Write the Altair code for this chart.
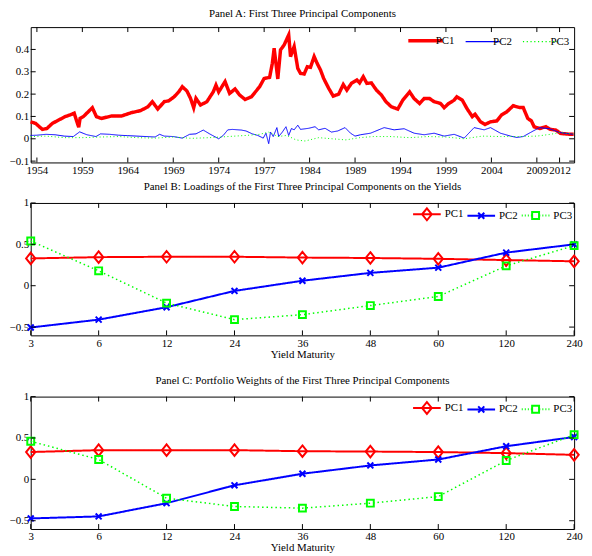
import altair as alt
import pandas as pd

FONT = "Liberation Serif"
series_names = ["PC1", "PC2", "PC3"]
series_colors = ["#ff0000", "#0000ff", "#00ff00"]
# style categories (line dash / marker) for each series
series_dash = ["solid", "solid", "dotted"]
series_marker = ["diamond", "x-mark", "square"]

# ---------------- Panel A: time series of the first three PCs ----------------
pc1_years = [1953.3, 1953.85, 1954.6, 1955.1, 1955.7, 1956.4, 1957.1, 1957.8, 1958.1, 1958.4,
             1958.6, 1958.75, 1959.1, 1959.65, 1960.1, 1960.55, 1961.1, 1962.2, 1963.3, 1964.4,
             1965.4, 1966.2, 1966.7, 1967.3, 1968.0, 1968.5, 1969.1, 1969.6, 1970.0, 1970.5,
             1970.9, 1971.25, 1971.5, 1972.0, 1972.7, 1973.4, 1973.7, 1974.0, 1974.7, 1975.2,
             1975.8, 1976.3, 1976.9, 1977.6, 1978.5, 1979.0, 1979.6, 1979.9, 1980.1, 1980.5,
             1980.8, 1981.2, 1981.7, 1981.9, 1982.3, 1982.7, 1983.0, 1983.4, 1983.75, 1984.1,
             1984.5, 1984.8, 1985.2, 1985.55, 1986.1, 1986.6, 1987.2, 1987.7, 1988.1, 1988.6,
             1989.2, 1989.5, 1989.9, 1990.3, 1990.8, 1991.35, 1991.9, 1992.4, 1993.0, 1993.7,
             1994.25, 1995.0, 1995.5, 1996.1, 1996.6, 1997.2, 1997.7, 1998.4, 1998.8, 1999.3,
             1999.9, 2000.2, 2000.8, 2001.3, 2001.9, 2002.2, 2002.8, 2003.3, 2003.9, 2004.6,
             2005.1, 2005.7, 2006.4, 2007.1, 2007.5, 2008.0, 2008.4, 2008.7, 2009.3, 2010.0,
             2010.5, 2011.1, 2011.6, 2012.7, 2013.05]
pc1_vals = [0.076, 0.069, 0.042, 0.046, 0.069, 0.084, 0.099, 0.109, 0.115, 0.076,
            0.052, 0.091, 0.099, 0.121, 0.139, 0.099, 0.091, 0.102, 0.102, 0.117,
            0.126, 0.143, 0.166, 0.133, 0.166, 0.170, 0.188, 0.210, 0.233, 0.214,
            0.181, 0.139, 0.181, 0.151, 0.166, 0.210, 0.240, 0.210, 0.256, 0.203,
            0.223, 0.196, 0.176, 0.188, 0.233, 0.270, 0.275, 0.338, 0.405, 0.268,
            0.398, 0.420, 0.465, 0.368, 0.413, 0.315, 0.293, 0.290, 0.323, 0.320,
            0.368, 0.340, 0.308, 0.270, 0.226, 0.191, 0.200, 0.243, 0.218, 0.248,
            0.263, 0.250, 0.278, 0.248, 0.250, 0.218, 0.196, 0.166, 0.143, 0.133,
            0.173, 0.210, 0.180, 0.158, 0.180, 0.180, 0.166, 0.158, 0.139, 0.158,
            0.173, 0.188, 0.173, 0.136, 0.099, 0.110, 0.076, 0.064, 0.076, 0.080,
            0.106, 0.121, 0.148, 0.140, 0.140, 0.091, 0.080, 0.054, 0.046, 0.054,
            0.042, 0.039, 0.024, 0.020, 0.020]

pc2_years = [1953.3, 1954.0, 1955.0, 1956.0, 1957.0, 1958.0, 1958.7, 1959.5, 1960.5, 1961.0,
             1962.0, 1963.0, 1964.0, 1965.0, 1966.0, 1967.0, 1967.5, 1968.0, 1969.0, 1970.0,
             1970.8, 1971.5, 1972.3, 1973.0, 1974.0, 1974.5, 1975.0, 1975.5, 1976.5, 1977.0,
             1977.7, 1978.3, 1978.9, 1979.2, 1979.5, 1979.7, 1980.0, 1980.4, 1980.6, 1981.0,
             1981.4, 1981.7, 1982.0, 1982.3, 1982.7, 1983.0, 1983.9, 1984.6, 1985.0, 1985.7,
             1986.4, 1987.1, 1987.9, 1988.5, 1989.0, 1989.6, 1990.7, 1992.2, 1993.3, 1994.4,
             1995.5, 1996.6, 1997.7, 1998.8, 1999.9, 2001.0, 2002.1, 2003.2, 2003.9, 2005.0,
             2006.1, 2006.8, 2007.5, 2008.6, 2009.3, 2010.4, 2011.5, 2013.0]
pc2_vals = [0.015, 0.016, 0.020, 0.018, 0.012, 0.010, 0.031, 0.018, 0.010, 0.022,
            0.020, 0.016, 0.014, 0.012, 0.010, 0.008, 0.020, 0.012, 0.010, 0.003,
            0.020, 0.022, 0.039, 0.022, 0.000, 0.015, 0.040, 0.042, 0.039, 0.035,
            0.022, 0.015, 0.003, 0.025, -0.022, 0.030, 0.010, 0.050, 0.010, 0.030,
            0.054, 0.015, 0.046, 0.040, 0.061, 0.042, 0.047, 0.054, 0.040, 0.047,
            0.030, 0.035, 0.050, 0.025, 0.012, 0.018, 0.025, 0.050, 0.040, 0.045,
            0.025, 0.018, 0.025, 0.012, 0.020, 0.003, 0.050, 0.040, 0.050, 0.025,
            0.012, 0.006, 0.010, 0.035, 0.050, 0.045, 0.028, 0.020]

pc3_years = [1953.3, 1955.0, 1957.0, 1959.0, 1961.0, 1963.0, 1965.0, 1967.0, 1969.0, 1971.0,
             1973.0, 1975.0, 1977.0, 1978.5, 1979.5, 1980.5, 1981.5, 1982.5, 1983.5, 1985.0,
             1986.5, 1988.0, 1989.5, 1991.0, 1993.0, 1995.0, 1997.0, 1999.0, 2001.0, 2003.0,
             2005.0, 2007.0, 2009.0, 2010.5, 2011.5, 2013.0]
pc3_vals = [0.010, 0.012, 0.005, 0.005, 0.008, 0.010, 0.005, 0.003, 0.008, 0.002,
            0.005, 0.010, 0.015, 0.020, 0.030, 0.010, 0.015, -0.005, -0.010, 0.005,
            0.000, -0.005, 0.005, 0.010, 0.010, 0.005, 0.010, 0.008, 0.000, 0.012,
            0.010, 0.010, 0.012, 0.020, 0.028, 0.022]

year_ticks = [1954, 1959, 1964, 1969, 1974, 1979, 1984, 1989, 1994, 1999, 2004, 2009, 2011.5]
year_tick_labels = ["1954", "1959", "1964", "1969", "1974", "1977", "1984", "1989", "1994",
                    "1999", "2004", "2009", "2012"]
a_y_ticks = [-0.1, 0, 0.1, 0.2, 0.3, 0.4]

# ---------------- Panels B and C ----------------
maturities = ["3", "6", "12", "24", "36", "48", "60", "120", "240"]
loadings_pc1 = [0.33, 0.345, 0.35, 0.35, 0.34, 0.335, 0.325, 0.31, 0.295]
loadings_pc2 = [-0.505, -0.41, -0.26, -0.063, 0.06, 0.155, 0.218, 0.40, 0.50]
loadings_pc3 = [0.54, 0.18, -0.21, -0.41, -0.35, -0.24, -0.13, 0.24, 0.485]
weights_pc1 = [0.33, 0.353, 0.353, 0.353, 0.34, 0.336, 0.33, 0.317, 0.296]
weights_pc2 = [-0.472, -0.448, -0.288, -0.072, 0.068, 0.168, 0.24, 0.40, 0.512]
weights_pc3 = [0.46, 0.24, -0.228, -0.328, -0.348, -0.288, -0.208, 0.228, 0.54]
bc_y_ticks = [-0.5, 0, 0.5, 1]

W = 550
HA, HB = 137, 134

point_shapes = ["M0,-0.97L0.78,0L0,0.97L-0.78,0Z",
                "M-0.5,-0.5L0.5,0.5M-0.5,0.5L0.5,-0.5",
                "M-0.58,-0.58L0.58,-0.58L0.58,0.58L-0.58,0.58Z"]

dots = "M-1,0L-0.93,0M-0.78,0L-0.71,0M-0.56,0L-0.49,0M-0.34,0L-0.27,0M-0.12,0L-0.05,0M0.1,0L0.17,0M0.32,0L0.39,0M0.54,0L0.61,0M0.76,0L0.83,0M0.95,0L1,0"
dots_gap = "M-1,0L-0.93,0M-0.78,0L-0.71,0M-0.56,0L-0.49,0M-0.34,0L-0.27,0M0.27,0L0.34,0M0.49,0L0.56,0M0.71,0L0.78,0M0.93,0L1,0"
legA_shape = ("datum.value === 'PC3' ? '" + dots + "' : 'M-1,0L1,0'")
legA_width = "datum.value === 'PC1' ? 3.5 : 1.3"
legBC_shape = ("datum.value === 'PC1' ? 'M-1,0L1,0M0,-0.43L0.35,0L0,0.43L-0.35,0Z' : "
               "datum.value === 'PC2' ? 'M-1,0L1,0M-0.22,-0.22L0.22,0.22M-0.22,0.22L0.22,-0.22' : '"
               + dots_gap + "M-0.25,-0.25L0.25,-0.25L0.25,0.25L-0.25,0.25Z'")


def legend(shape_expr, width_expr, lx, ly, size, loff, cpad):
    return alt.Legend(
        title=None, orient="none", legendX=lx, legendY=ly, direction="horizontal", padding=0,
        symbolType=alt.ExprRef(expr=shape_expr), symbolSize=size,
        symbolStrokeWidth=alt.ExprRef(expr=width_expr),
        symbolFillColor="transparent",
        labelFont=FONT, labelFontSize=11, labelColor="black", labelOffset=loff,
        columnPadding=cpad,
    )


def title(text, off):
    return alt.TitleParams(text=text, font=FONT, fontSize=11, fontWeight="normal",
                           color="black", offset=off, anchor="middle")


def inner_ticks(xenc_field, yenc_field, xdef, ydef, xvals, yvals, w, h, L=5):
    tx = pd.DataFrame({xenc_field: xvals})
    ty = pd.DataFrame({yenc_field: yvals})
    r = dict(color="black", strokeWidth=1)
    return [
        alt.Chart(tx).mark_rule(**r).encode(x=xdef, y=alt.value(h), y2=alt.value(h - L)),
        alt.Chart(tx).mark_rule(**r).encode(x=xdef, y=alt.value(0), y2=alt.value(L)),
        alt.Chart(ty).mark_rule(**r).encode(y=ydef, x=alt.value(0), x2=alt.value(L)),
        alt.Chart(ty).mark_rule(**r).encode(y=ydef, x=alt.value(w), x2=alt.value(w - L)),
    ]


axis_font = dict(labelFont=FONT, labelFontSize=11, labelColor="black", titleFont=FONT,
                 titleFontSize=11, titleFontWeight="normal", titleColor="black",
                 tickSize=0, domain=False, grid=False)
dash_scale_A = alt.Scale(domain=["solid", "dotted"], range=[[1, 0], [1, 2.5]])
dash_scale_BC = alt.Scale(domain=["solid", "dotted"], range=[[1, 0], [1.5, 3]])
marker_scale = alt.Scale(domain=series_marker, range=point_shapes)
dash_of = dict(zip(series_names, series_dash))
marker_of = dict(zip(series_names, series_marker))

# ---- Panel A chart
dfA = pd.concat([
    pd.DataFrame({"year": pc1_years, "value": pc1_vals, "series": "PC1"}),
    pd.DataFrame({"year": pc2_years, "value": pc2_vals, "series": "PC2"}),
    pd.DataFrame({"year": pc3_years, "value": pc3_vals, "series": "PC3"}),
])
dfA["dash"] = dfA["series"].map(dash_of)
label_expr = "''"
for v, lab in reversed(list(zip(year_ticks, year_tick_labels))):
    label_expr = f"datum.value === {v} ? '{lab}' : ({label_expr})"

xA = alt.X("year:Q", scale=alt.Scale(domain=[1953.32, 2013.1], nice=False, zero=False),
           axis=alt.Axis(values=year_ticks, labelExpr=label_expr, title=None, labelPadding=2,
                         labelOverlap=False, labelFlush=False, labelBound=False, **axis_font))
yA = alt.Y("value:Q", scale=alt.Scale(domain=[-0.106, 0.5], nice=False, zero=False),
           axis=alt.Axis(values=a_y_ticks, format="~g", title=None, labelPadding=2, **axis_font))
colorA = alt.Color("series:N", scale=alt.Scale(domain=series_names, range=series_colors),
                   legend=legend(legA_shape, legA_width, 394, 8, 1200, 5, 8))

linesA = alt.Chart(dfA).mark_line().encode(
    x=xA, y=yA, color=colorA,
    strokeDash=alt.StrokeDash("dash:N", scale=dash_scale_A, legend=None),
    strokeWidth=alt.condition("datum.series === 'PC1'", alt.value(3.5), alt.value(1)),
)
panelA = alt.layer(linesA, *inner_ticks("year", "value", xA, yA, year_ticks, a_y_ticks, W, HA)).properties(
    width=W, height=HA, title=title("Panel A: First Three Principal Components", 8))


# ---- Panels B and C
def maturity_panel(v1, v2, v3, ttl):
    df = pd.DataFrame({
        "maturity": maturities * 3,
        "value": v1 + v2 + v3,
        "series": [s for s in series_names for _ in maturities],
    })
    df["dash"] = df["series"].map(dash_of)
    df["marker"] = df["series"].map(marker_of)
    x = alt.X("maturity:N", sort=maturities, scale=alt.Scale(type="point", padding=0),
              axis=alt.Axis(labelAngle=0, title="Yield Maturity", labelPadding=2, titlePadding=0,
                            labelOverlap=False, labelFlush=False, labelBound=False, **axis_font))
    y = alt.Y("value:Q", scale=alt.Scale(domain=[-0.6, 1], nice=False, zero=False),
              axis=alt.Axis(values=bc_y_ticks, format="~g", title=None, labelPadding=2, **axis_font))
    color = alt.Color("series:N", scale=alt.Scale(domain=series_names, range=series_colors),
                      legend=legend(legBC_shape, "2", 386, -4, 784, 3, 0))
    lines = alt.Chart(df).mark_line().encode(
        x=x, y=y, color=color,
        strokeDash=alt.StrokeDash("dash:N", scale=dash_scale_BC, legend=None),
        strokeWidth=alt.condition("datum.series === 'PC3'", alt.value(1.5), alt.value(2)),
    )
    pts = alt.Chart(df).mark_point(filled=False, size=144, strokeWidth=2, opacity=1).encode(
        x=x, y=y, color=color,
        shape=alt.Shape("marker:N", scale=marker_scale, legend=None),
    )
    return alt.layer(lines, pts, *inner_ticks("maturity", "value", x, y, maturities, bc_y_ticks, W, HB)).properties(
        width=W, height=HB, title=title(ttl, 5))


panelB = maturity_panel(loadings_pc1, loadings_pc2, loadings_pc3,
                        "Panel B: Loadings of the First Three Principal Components on the Yields")
panelC = maturity_panel(weights_pc1, weights_pc2, weights_pc3,
                        "Panel C: Portfolio Weights of the First Three Principal Components")

lower = alt.vconcat(panelB, panelC, spacing=14).resolve_scale(
    color="independent", shape="independent", strokeDash="independent").resolve_legend(color="independent")

chart = alt.vconcat(panelA, lower, spacing=4, background="white",
                    padding={"top": -4, "left": 0, "right": 0, "bottom": 0}).resolve_scale(
    color="independent", strokeDash="independent").resolve_legend(color="independent"
).configure(font=FONT).configure_view(stroke="black", strokeWidth=1).configure_axis(**axis_font)

chart.save("out.html", embed_options={"renderer": "svg", "actions": False})
